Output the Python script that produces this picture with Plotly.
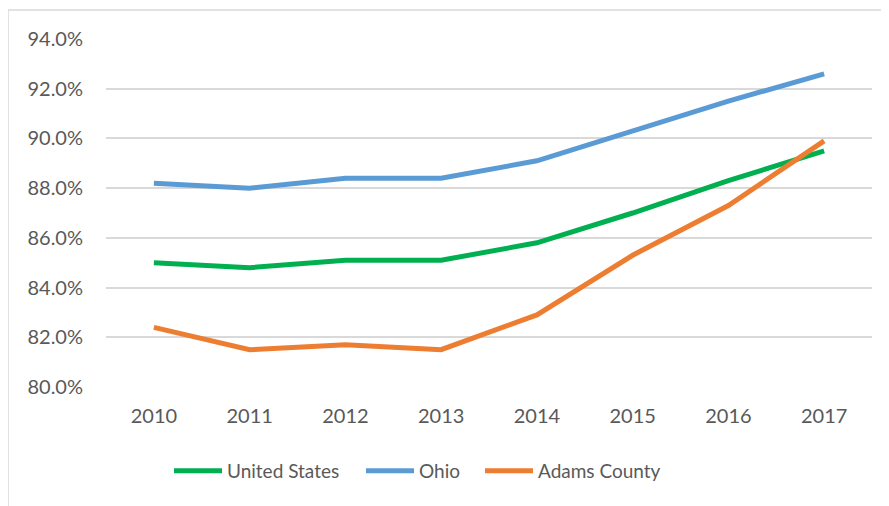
import plotly.graph_objects as go

years = ["2010", "2011", "2012", "2013", "2014", "2015", "2016", "2017"]
united_states = [85.0, 84.8, 85.1, 85.1, 85.8, 87.0, 88.3, 89.5]
ohio = [88.2, 88.0, 88.4, 88.4, 89.1, 90.3, 91.5, 92.6]
adams_county = [82.4, 81.5, 81.7, 81.5, 82.9, 85.3, 87.3, 89.9]
y_ticks = [80, 82, 84, 86, 88, 90, 92, 94]
y_tick_labels = ["80.0%", "82.0%", "84.0%", "86.0%", "88.0%", "90.0%", "92.0%", "94.0%"]

# page has an 8px body margin; figure coordinates = page - 8
W, H = 881, 498
L, R, T, B = 98, 17, 31, 119

pw = W - L - R
ph = H - T - B
def px_x(p):
    return (p - L) / pw
def px_y(p):
    return (H - B - p) / ph

font = dict(family="Lato, Open Sans, sans-serif", size=20, color="#595959")
legend_font = dict(family="Lato, Open Sans, sans-serif", size=19, color="#595959")

fig = go.Figure()
series = [("United States", united_states, "#00B050", "legend", 161),
          ("Ohio", ohio, "#5B9BD5", "legend2", 353),
          ("Adams County", adams_county, "#ED7D31", "legend3", 472)]
legends = {}
for name, vals, col, lg, lx in series:
    fig.add_trace(go.Scatter(x=years, y=vals, name=name, mode="lines",
                             line=dict(color=col, width=5), legend=lg))
    legends[lg] = dict(orientation="h", x=px_x(lx), xanchor="left",
                       y=px_y(463), yanchor="middle", font=legend_font, itemwidth=48,
                       bgcolor="rgba(0,0,0,0)")

fig.add_shape(type="line", xref="paper", yref="paper",
              x0=px_x(0), x1=px_x(W), y0=px_y(2), y1=px_y(2),
              line=dict(color="#D9D9D9", width=1.5))
fig.add_shape(type="line", xref="paper", yref="paper",
              x0=px_x(0), x1=px_x(0), y0=px_y(2), y1=px_y(H),
              line=dict(color="#D9D9D9", width=1.5))

fig.update_layout(
    width=W, height=H,
    margin=dict(l=L, r=R, t=T, b=B),
    paper_bgcolor="white", plot_bgcolor="white",
    font=font,
    showlegend=True,
    xaxis=dict(type="category", range=[-0.5, 7.5], showgrid=False, ticks="",
               showline=False, ticklabelstandoff=15, tickfont=font),
    yaxis=dict(range=[80, 94], tickvals=y_ticks, ticktext=y_tick_labels,
               showgrid=True, gridcolor="#D9D9D9", gridwidth=1.5, zeroline=False,
               ticks="", ticklabelstandoff=22, tickfont=font),
    **legends,
)
fig.write_html("out.html")
